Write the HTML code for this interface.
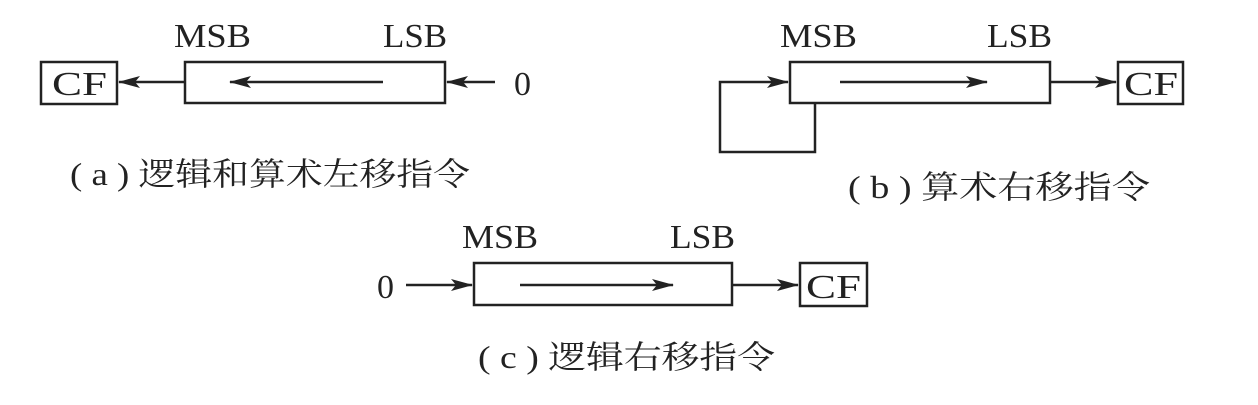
<!DOCTYPE html>
<html><head><meta charset="utf-8"><style>
html,body{margin:0;padding:0;background:#fff;}
svg{display:block;}
text{font-family:"Liberation Serif","Noto Serif CJK SC",serif;fill:#222;}
.cj{font-family:"Liberation Serif","Noto Serif CJK SC",serif;}
</style></head><body>
<svg width="1258" height="405" viewBox="0 0 1258 405" xmlns="http://www.w3.org/2000/svg">
<defs>
<marker id="b" markerWidth="22" markerHeight="12" refX="21" refY="6" orient="auto" markerUnits="userSpaceOnUse"><path d="M0,0 L22,6 L0,12 L5,6Z" fill="#222"/></marker></defs>
<g stroke="#222" stroke-width="2.5" fill="none">
<rect x="41" y="62" width="76" height="42"/>
<rect x="185" y="62" width="260" height="41"/>
<line x1="185" y1="82" x2="119" y2="82" marker-end="url(#b)"/>
<line x1="383" y1="82" x2="230" y2="82" marker-end="url(#b)"/>
<line x1="495" y1="82" x2="447" y2="82" marker-end="url(#b)"/>
<rect x="790" y="62" width="260" height="41"/>
<rect x="1118" y="62" width="65" height="42"/>
<polyline points="815,103 815,152 720,152 720,82 788,82" marker-end="url(#b)"/>
<line x1="840" y1="82" x2="987" y2="82" marker-end="url(#b)"/>
<line x1="1050" y1="82" x2="1116" y2="82" marker-end="url(#b)"/>
<rect x="474" y="263" width="258" height="42"/>
<rect x="800" y="263" width="67" height="43"/>
<line x1="406" y1="285" x2="472" y2="285" marker-end="url(#b)"/>
<line x1="520" y1="285" x2="673" y2="285" marker-end="url(#b)"/>
<line x1="732" y1="285" x2="798" y2="285" marker-end="url(#b)"/>
</g>
<g font-size="34">
<text x="174" y="47" textLength="77" lengthAdjust="spacingAndGlyphs">MSB</text>
<text x="383" y="47" textLength="64" lengthAdjust="spacingAndGlyphs">LSB</text>
<text x="52" y="95" textLength="55" lengthAdjust="spacingAndGlyphs">CF</text>
<text x="514" y="95">0</text>
<text x="780" y="47" textLength="77" lengthAdjust="spacingAndGlyphs">MSB</text>
<text x="987" y="47" textLength="65" lengthAdjust="spacingAndGlyphs">LSB</text>
<text x="1124" y="95" textLength="54" lengthAdjust="spacingAndGlyphs">CF</text>
<text x="462" y="248" textLength="76" lengthAdjust="spacingAndGlyphs">MSB</text>
<text x="670" y="248" textLength="65" lengthAdjust="spacingAndGlyphs">LSB</text>
<text x="806" y="298" textLength="55" lengthAdjust="spacingAndGlyphs">CF</text>
<text x="377" y="298">0</text>
</g>
<g font-size="32">
<text class="cj" x="70" y="185" textLength="400" lengthAdjust="spacingAndGlyphs">( a ) 逻辑和算术左移指令</text>
<text class="cj" x="848" y="198" textLength="302" lengthAdjust="spacingAndGlyphs">( b ) 算术右移指令</text>
<text class="cj" x="478" y="368" textLength="297" lengthAdjust="spacingAndGlyphs">( c ) 逻辑右移指令</text>
</g>
</svg>
</body></html>
